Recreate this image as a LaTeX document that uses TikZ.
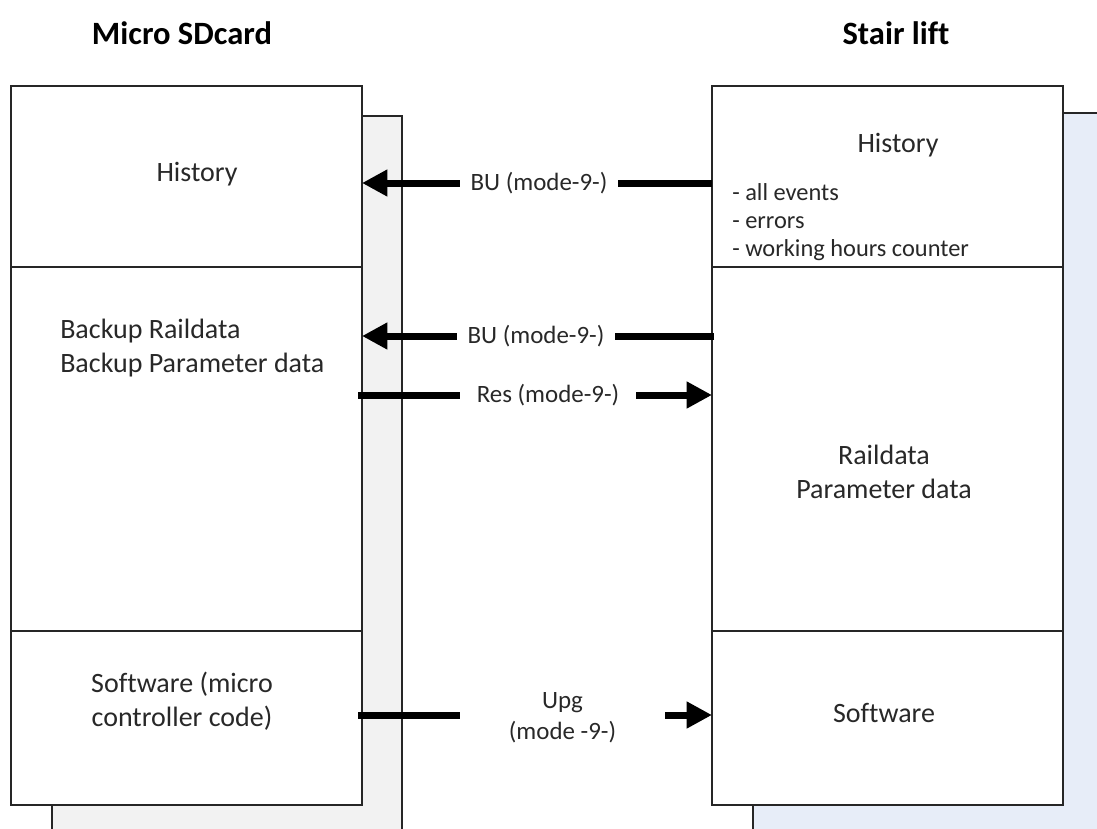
\documentclass[tikz,border=0pt]{standalone}
\usepackage{fontspec}
\setmainfont{Carlito}[Ligatures=NoCommon]
\usetikzlibrary{arrows.meta,fit}
\definecolor{shadowgray}{RGB}{242,242,242}
\definecolor{shadowblue}{RGB}{231,237,248}
\definecolor{txt}{RGB}{40,40,40}
\begin{document}
\begin{tikzpicture}[x=0.75pt,y=-0.75pt,
  boxpart/.style={draw=black!85, line width=1.1pt, fill=white, inner sep=0pt},
  shadowpart/.style={draw=black!85, line width=1.1pt, inner sep=0pt},
  maintext/.style={font=\fontsize{21}{25.5}\selectfont, text=txt, align=center, inner sep=0pt},
  listtext/.style={font=\fontsize{18.3}{21}\selectfont, text=txt, align=left, inner sep=0pt},
  labtext/.style={font=\fontsize{18.7}{23}\selectfont, text=txt, align=center, inner sep=0pt, minimum height=10pt},
  titletext/.style={font=\fontsize{24.4}{29}\selectfont\bfseries, text=black, inner sep=0pt},
  bar/.style={line width=5.25pt, draw=black},
  tip/.style={-{Triangle[length=19pt,width=19pt]}}]
\clip (0,0) rectangle (1097,829);
% shadows
\node[shadowpart, fill=shadowgray, fit={(52,116) (402,850)}] (lshadow) {};
\node[shadowpart, fill=shadowblue, fit={(753,113) (1120,850)}] (rshadow) {};
% left column
\node[boxpart, fit={(11,86) (362,267)}] (lh) {};
\node[boxpart, fit={(11,267) (362,631)}] (lb) {};
\node[boxpart, fit={(11,631) (362,805)}] (ls) {};
% right column
\node[boxpart, fit={(712,86) (1063,267)}] (rh) {};
\node[boxpart, fit={(712,267) (1063,631)}] (rb) {};
\node[boxpart, fit={(712,631) (1063,805)}] (rs) {};
% titles
\node[titletext] (ttl) at (182,33) {Micro SDcard};
\node[titletext] (ttr) at (896,33) {Stair lift};
% texts
\node[maintext] (lhT) at (197,174) {History};
\node[maintext, anchor=west, align=left] (lbT) at (60,348) {Backup Raildata\\Backup Parameter data};
\node[maintext] (lsT) at (182,701) {Software (micro\\controller code)};
\node[maintext] (rhT) at (898,145) {History};
\node[listtext, anchor=west] (rhL) at (732,222) {- all events\\- errors\\- working hours counter};
\node[maintext] (rbT) at (884,472) {Raildata\\Parameter data};
\node[maintext] (rsT) at (884,713) {Software};
% connector ends
\coordinate (a1s) at (712,183); \coordinate (a1e) at (362,183);
\coordinate (a2s) at (714,336); \coordinate (a2e) at (362,336);
\coordinate (a3s) at (358,395); \coordinate (a3e) at (712,395);
\coordinate (a4s) at (358,715); \coordinate (a4e) at (712,715);
% labels
\node[labtext, minimum width=158*0.75pt] (l1) at (539,183) {BU (mode-9-)};
\node[labtext, minimum width=158*0.75pt] (l2) at (536,336) {BU (mode-9-)};
\node[labtext, minimum width=176*0.75pt] (l3) at (548,395) {Res (mode-9-)};
\node[labtext, minimum width=205*0.75pt] (l4) at (562.5,717.5) {Upg\\(mode -9-)};
% connectors
\draw[bar] (a1s) -- (l1.east);
\draw[bar, tip] (l1.west) -- (a1e);
\draw[bar] (a2s) -- (l2.east);
\draw[bar, tip] (l2.west) -- (a2e);
\draw[bar] (a3s) -- (l3.west);
\draw[bar, tip] (l3.east) -- (a3e);
\draw[bar] (a4s) -- (a4s -| l4.west);
\draw[bar, tip] (a4e -| l4.east) -- (a4e);
\end{tikzpicture}
\end{document}
